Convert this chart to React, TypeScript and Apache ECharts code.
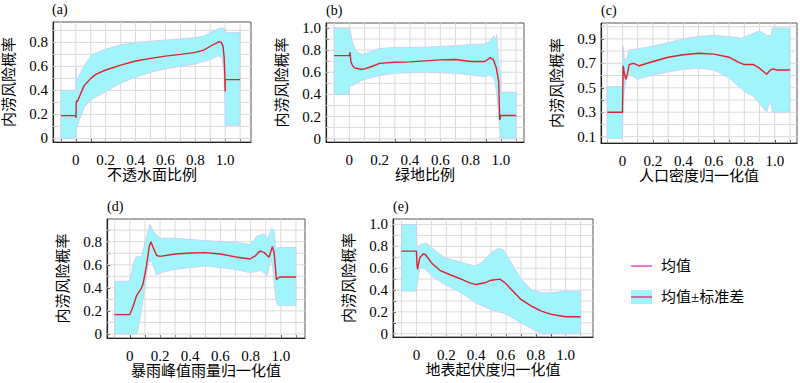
import React, { useEffect, useRef } from "react";
import * as echarts from "echarts";

// ---------- data (x = normalized factor, y = probability) ----------
const meanA = [[-0.1,0.19],[0,0.19],[0.001,0.17],[0.003,0.31],[0.011,0.31],[0.033,0.375],[0.056,0.44],[0.1,0.5],[0.133,0.533],[0.2,0.57],[0.3,0.61],[0.4,0.645],[0.5,0.667],[0.6,0.686],[0.7,0.7],[0.8,0.717],[0.856,0.736],[0.904,0.77],[0.956,0.805],[0.975,0.8],[0.985,0.77],[0.993,0.68],[0.998,0.52],[1.0,0.39],[1.0,0.49],[1.1,0.49]];
const upperA = [[-0.1,0.4],[0,0.4],[0,0.59],[0.004,0.5],[0.012,0.49],[0.033,0.555],[0.078,0.65],[0.11,0.7],[0.2,0.745],[0.3,0.78],[0.4,0.8],[0.5,0.81],[0.6,0.82],[0.7,0.83],[0.8,0.84],[0.856,0.853],[0.92,0.894],[0.967,0.92],[0.993,0.917],[1.0,0.9],[1.0,0.883],[1.1,0.883]];
const lowerA = [[-0.1,0],[0,0],[0.004,0.08],[0.022,0.15],[0.056,0.26],[0.1,0.32],[0.2,0.39],[0.3,0.46],[0.4,0.51],[0.5,0.55],[0.6,0.58],[0.7,0.6],[0.8,0.62],[0.856,0.64],[0.92,0.667],[0.956,0.69],[0.978,0.667],[0.99,0.58],[0.997,0.4],[1.0,0.25],[1.0,0.11],[1.1,0.11]];

const meanB = [[-0.1,0.75],[0,0.75],[0.004,0.78],[0.01,0.7],[0.018,0.667],[0.033,0.64],[0.077,0.627],[0.1,0.63],[0.143,0.65],[0.2,0.68],[0.3,0.69],[0.4,0.694],[0.5,0.703],[0.6,0.712],[0.7,0.715],[0.8,0.697],[0.894,0.697],[0.916,0.718],[0.93,0.733],[0.95,0.712],[0.97,0.636],[0.985,0.515],[0.992,0.17],[1.0,0.21],[1.1,0.21]];
const upperB = [[-0.1,1.0],[0,1.0],[0.011,0.94],[0.022,0.86],[0.044,0.79],[0.088,0.76],[0.143,0.79],[0.2,0.815],[0.3,0.824],[0.5,0.827],[0.7,0.84],[0.8,0.85],[0.894,0.855],[0.927,0.885],[0.954,0.933],[0.965,0.89],[0.972,0.94],[0.98,0.8],[0.99,0.62],[1.0,0.6],[1.0,0.42],[1.1,0.42]];
const lowerB = [[-0.1,0.4],[0,0.4],[0.002,0.46],[0.011,0.485],[0.022,0.48],[0.044,0.5],[0.088,0.53],[0.143,0.55],[0.2,0.57],[0.3,0.59],[0.5,0.6],[0.7,0.59],[0.8,0.576],[0.894,0.56],[0.927,0.576],[0.955,0.545],[0.97,0.424],[0.985,0.21],[0.995,0],[1.1,0]];

const meanC = [[-0.1,0.3],[0,0.3],[0.002,0.5],[0.005,0.68],[0.012,0.62],[0.022,0.57],[0.033,0.62],[0.044,0.69],[0.073,0.7],[0.11,0.68],[0.2,0.715],[0.3,0.75],[0.4,0.77],[0.5,0.783],[0.6,0.775],[0.7,0.75],[0.76,0.71],[0.8,0.69],[0.86,0.69],[0.9,0.66],[0.947,0.61],[0.97,0.644],[0.99,0.655],[1.013,0.645],[1.1,0.645]];
const upperC = [[-0.1,0.51],[0,0.51],[0,0.6],[0.004,0.84],[0.012,0.75],[0.022,0.715],[0.044,0.81],[0.1,0.82],[0.2,0.84],[0.3,0.87],[0.4,0.9],[0.5,0.92],[0.6,0.93],[0.7,0.92],[0.78,0.905],[0.85,0.94],[0.9,0.966],[0.947,0.93],[0.975,0.925],[0.985,0.99],[1.1,0.99]];
const lowerC = [[-0.1,0.086],[0,0.086],[0.004,0.39],[0.022,0.56],[0.044,0.61],[0.1,0.57],[0.2,0.605],[0.3,0.63],[0.4,0.65],[0.5,0.66],[0.6,0.645],[0.7,0.58],[0.8,0.47],[0.86,0.43],[0.9,0.37],[0.947,0.3],[0.97,0.39],[0.985,0.3],[1.1,0.3]];

const meanD = [[-0.1,0.168],[0,0.168],[0.022,0.24],[0.044,0.33],[0.078,0.4],[0.089,0.44],[0.11,0.59],[0.129,0.76],[0.14,0.8],[0.156,0.745],[0.178,0.68],[0.2,0.673],[0.3,0.694],[0.4,0.702],[0.5,0.705],[0.6,0.694],[0.7,0.668],[0.796,0.65],[0.833,0.68],[0.862,0.72],[0.889,0.708],[0.922,0.665],[0.944,0.76],[0.956,0.7],[0.971,0.47],[0.985,0.49],[1.0,0.494],[1.1,0.494]];
const upperD = [[-0.1,0.457],[0,0.457],[0.022,0.6],[0.04,0.67],[0.078,0.67],[0.1,0.79],[0.133,0.95],[0.156,0.89],[0.2,0.83],[0.3,0.83],[0.5,0.81],[0.7,0.795],[0.796,0.775],[0.844,0.85],[0.893,0.87],[0.911,0.82],[0.94,0.92],[0.956,0.89],[0.967,0.72],[0.978,0.75],[1.1,0.75]];
const lowerD = [[-0.1,0],[0.049,0],[0.078,0.21],[0.1,0.41],[0.122,0.62],[0.144,0.63],[0.178,0.51],[0.2,0.53],[0.3,0.56],[0.5,0.59],[0.7,0.56],[0.796,0.53],[0.867,0.55],[0.911,0.506],[0.933,0.645],[0.944,0.6],[0.967,0.3],[0.978,0.246],[1.1,0.246]];

const meanE = [[-0.1,0.756],[0,0.756],[0.003,0.65],[0.007,0.59],[0.022,0.695],[0.045,0.73],[0.06,0.725],[0.1,0.65],[0.156,0.58],[0.234,0.535],[0.3,0.5],[0.357,0.466],[0.4,0.45],[0.458,0.466],[0.5,0.49],[0.558,0.5],[0.59,0.47],[0.636,0.405],[0.7,0.314],[0.77,0.253],[0.837,0.207],[0.904,0.177],[1.0,0.155],[1.1,0.155]];
const upperE = [[-0.1,1.0],[0,1.0],[0.003,0.8],[0.007,0.79],[0.033,0.82],[0.067,0.83],[0.1,0.79],[0.19,0.695],[0.3,0.655],[0.39,0.62],[0.435,0.65],[0.5,0.74],[0.547,0.78],[0.58,0.77],[0.636,0.65],[0.7,0.5],[0.77,0.405],[0.837,0.375],[0.904,0.375],[1.0,0.39],[1.1,0.39]];
const lowerE = [[-0.1,0.39],[0,0.39],[0.007,0.47],[0.022,0.6],[0.045,0.61],[0.1,0.53],[0.19,0.45],[0.3,0.375],[0.4,0.28],[0.5,0.22],[0.6,0.18],[0.7,0.1],[0.8,0.025],[0.837,0],[1.1,0]];

const panelLabels = ["(a)", "(b)", "(c)", "(d)", "(e)"];
const xNames = ["不透水面比例", "绿地比例", "人口密度归一化值", "暴雨峰值雨量归一化值", "地表起伏度归一化值"];
const yName = "内涝风险概率";
const xTickValues = [-0.1, 0, 0.1, 0.2, 0.3, 0.4, 0.5, 0.6, 0.7, 0.8, 0.9, 1.0, 1.1];
const xLabelValues = [0, 0.2, 0.4, 0.6, 0.8, 1.0];
const yTicksA = [0, 0.1, 0.2, 0.3, 0.4, 0.5, 0.6, 0.7, 0.8, 0.9];
const yTicksB = [0, 0.1, 0.2, 0.3, 0.4, 0.5, 0.6, 0.7, 0.8, 0.9, 1.0];
const yTicksC = [0.1, 0.2, 0.3, 0.4, 0.5, 0.6, 0.7, 0.8, 0.9, 1.0];
const yLabelsA = [0, 0.2, 0.4, 0.6, 0.8];
const yLabelsB = [0, 0.2, 0.4, 0.6, 0.8, 1.0];
const yLabelsC = [0.1, 0.3, 0.5, 0.7, 0.9];
const legendNames = ["均值", "均值±标准差"];

// ---------- layout ----------
const panels = [
  { grid: { left: 52, top: 22, width: 199, height: 120 }, x: [-0.153, 1.173], y: [-0.03, 0.97], mean: meanA, up: upperA, lo: lowerA, yt: yTicksA, yl: yLabelsA },
  { grid: { left: 326, top: 23, width: 198, height: 119 }, x: [-0.154, 1.152], y: [-0.03, 1.045], mean: meanB, up: upperB, lo: lowerB, yt: yTicksB, yl: yLabelsB },
  { grid: { left: 601, top: 23, width: 196, height: 120 }, x: [-0.141, 1.146], y: [0.048, 1.03], mean: meanC, up: upperC, lo: lowerC, yt: yTicksC, yl: yLabelsC },
  { grid: { left: 107, top: 219, width: 198, height: 119 }, x: [-0.151, 1.16], y: [-0.035, 0.997], mean: meanD, up: upperD, lo: lowerD, yt: yTicksA, yl: yLabelsA },
  { grid: { left: 393, top: 219, width: 200, height: 118 }, x: [-0.157, 1.183], y: [-0.03, 1.05], mean: meanE, up: upperE, lo: lowerE, yt: yTicksB, yl: yLabelsB },
];

const NUMFONT = "Liberation Serif";
const CJKFONT = "Liberation Serif, Noto Sans CJK SC";
const BAND = "#A0F4FA";
const BAND_EDGE = "#C9CBF6";
const RED = "#E2202E";
const GRIDLINE = "#DADADA";

const fmt = (v: number) => (Math.abs(v) < 1e-9 ? "0" : v.toFixed(1));

function buildOption() {
  const grid: any[] = [];
  const xAxis: any[] = [];
  const yAxis: any[] = [];
  const series: any[] = [];
  const title: any[] = [];

  panels.forEach((p, i) => {
    grid.push({ ...p.grid, show: true, borderColor: "#555", borderWidth: 1, backgroundColor: "#fff", containLabel: false });
    xAxis.push({
      type: "value", gridIndex: i, min: p.x[0], max: p.x[1],
      name: xNames[i], nameLocation: "middle", nameGap: 24,
      nameTextStyle: { fontFamily: CJKFONT, fontSize: 15, color: "#000" },
      axisLine: { show: true, onZero: false, lineStyle: { color: "#222", width: 1.2 } },
      axisTick: { show: true, inside: true, length: 3, customValues: xTickValues, lineStyle: { color: "#222" } },
      axisLabel: { show: true, margin: 10, customValues: xLabelValues, formatter: fmt, fontFamily: NUMFONT, fontSize: 15, color: "#000" },
      splitLine: { show: false },
    });
    yAxis.push({
      type: "value", gridIndex: i, min: p.y[0], max: p.y[1],
      name: yName, nameLocation: "middle", nameGap: 37, nameRotate: 90,
      nameTextStyle: { fontFamily: CJKFONT, fontSize: 15, color: "#000" },
      axisLine: { show: true, onZero: false, lineStyle: { color: "#222", width: 1.2 } },
      axisTick: { show: true, inside: true, length: 3, customValues: p.yt, lineStyle: { color: "#222" } },
      axisLabel: { show: true, margin: 5, customValues: p.yl, formatter: fmt, fontFamily: NUMFONT, fontSize: 15, color: "#000" },
      splitLine: { show: false },
    });
    // grid lines
    series.push({
      type: "custom", xAxisIndex: i, yAxisIndex: i, z: 1, silent: true,
      data: [[0, p.yt[0]]],
      renderItem: (params: any, api: any) => {
        const children: any[] = [];
        xTickValues.forEach((xv) => {
          const a = api.coord([xv, p.y[0]]);
          const b = api.coord([xv, p.y[1]]);
          children.push({ type: "line", shape: { x1: a[0], y1: a[1], x2: b[0], y2: b[1] }, style: { stroke: GRIDLINE, lineWidth: 1 } });
        });
        p.yt.forEach((yv) => {
          const a = api.coord([p.x[0], yv]);
          const b = api.coord([p.x[1], yv]);
          children.push({ type: "line", shape: { x1: a[0], y1: a[1], x2: b[0], y2: b[1] }, style: { stroke: GRIDLINE, lineWidth: 1 } });
        });
        return { type: "group", children };
      },
    });
    // std band
    series.push({
      type: "custom", name: legendNames[1], xAxisIndex: i, yAxisIndex: i, z: 2, silent: true, clip: true,
      data: [[0, p.yt[0]]],
      renderItem: (params: any, api: any) => {
        const pts = [...p.up.map((d) => api.coord(d)), ...p.lo.slice().reverse().map((d) => api.coord(d))];
        return { type: "polygon", shape: { points: pts }, style: { fill: BAND, stroke: BAND_EDGE, lineWidth: 0.8 } };
      },
    });
    // mean line
    series.push({
      type: "line", name: legendNames[0], xAxisIndex: i, yAxisIndex: i, z: 3, data: p.mean,
      symbol: "none", lineStyle: { color: RED, width: 1.4 }, silent: true,
    });
    title.push({
      text: panelLabels[i], left: p.grid.left, top: p.grid.top - 20, padding: 0,
      textStyle: { fontFamily: NUMFONT, fontSize: 14, fontWeight: "normal", color: "#000" },
    });
  });

  const graphic = [
    { type: "line", shape: { x1: 631, y1: 266, x2: 652, y2: 266 }, style: { stroke: "#E21CC0", lineWidth: 1.2 } },
    { type: "text", x: 661, y: 266, style: { text: legendNames[0], fontFamily: CJKFONT, fontSize: 15, fill: "#000", verticalAlign: "middle" } },
    { type: "rect", shape: { x: 631, y: 290, width: 21, height: 14 }, style: { fill: BAND } },
    { type: "line", shape: { x1: 631, y1: 297, x2: 652, y2: 297 }, style: { stroke: "#D8206E", lineWidth: 1.2 } },
    { type: "text", x: 661, y: 297, style: { text: legendNames[1], fontFamily: CJKFONT, fontSize: 15, fill: "#000", verticalAlign: "middle" } },
  ];

  return { animation: false, backgroundColor: "#fff", title, grid, xAxis, yAxis, series, graphic };
}

export default function App() {
  const ref = useRef<HTMLDivElement>(null);
  useEffect(() => {
    if (!ref.current) return;
    const chart = echarts.init(ref.current, undefined, { renderer: "svg" });
    chart.setOption(buildOption() as any);
    return () => chart.dispose();
  }, []);
  return <div ref={ref} style={{ position: "fixed", left: 0, top: 0, width: 800, height: 383, background: "#fff" }} />;
}
